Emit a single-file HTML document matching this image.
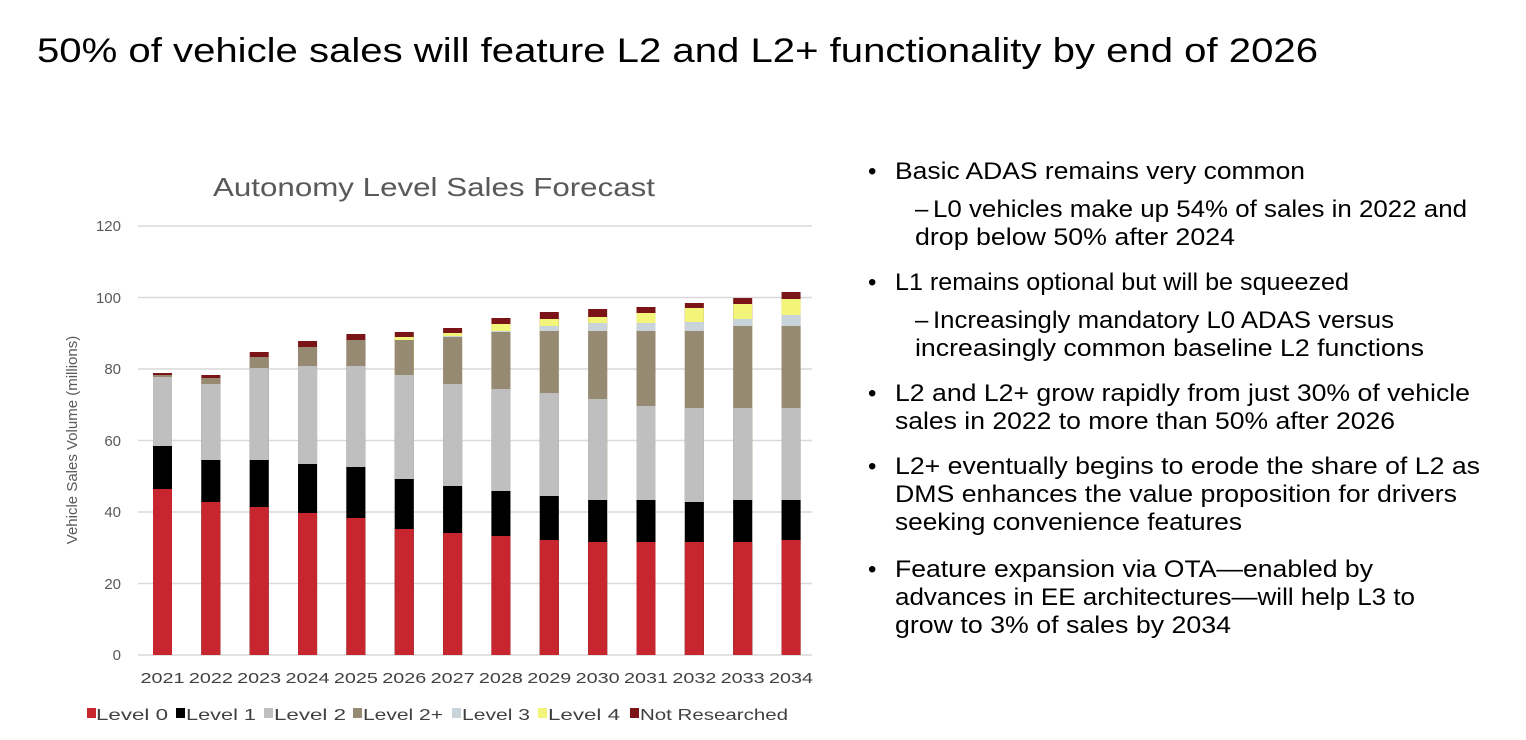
<!DOCTYPE html>
<html><head><meta charset="utf-8"><style>
html,body{margin:0;padding:0;background:#fff;}
svg{display:block;}
text{font-family:"Liberation Sans",Arial,sans-serif;}
</style></head><body>
<svg width="1526" height="740" viewBox="0 0 1526 740" xmlns="http://www.w3.org/2000/svg">
<text x="37" y="62" font-size="34" fill="#000" textLength="1281" lengthAdjust="spacingAndGlyphs">50% of vehicle sales will feature L2 and L2+ functionality by end of 2026</text>
<text x="213" y="196" font-size="26" fill="#595959" textLength="442" lengthAdjust="spacingAndGlyphs">Autonomy Level Sales Forecast</text>
<g stroke="#d9d9d9" stroke-width="1.5">
<line x1="138" y1="655" x2="812" y2="655"/><line x1="138" y1="583.5" x2="812" y2="583.5"/><line x1="138" y1="512" x2="812" y2="512"/><line x1="138" y1="440.5" x2="812" y2="440.5"/><line x1="138" y1="369" x2="812" y2="369"/><line x1="138" y1="297.5" x2="812" y2="297.5"/><line x1="138" y1="226" x2="812" y2="226"/>
</g>
<g font-size="15" fill="#595959" text-anchor="end">
<text x="121" y="660">0</text><text x="121" y="589">20</text><text x="121" y="517">40</text><text x="121" y="446">60</text><text x="121" y="374">80</text><text x="121" y="303">100</text><text x="121" y="231">120</text>
</g>
<text transform="translate(77,440) rotate(-90)" font-size="15" fill="#595959" text-anchor="middle">Vehicle Sales Volume (millions)</text>
<g id="bars"></g>
<g font-size="15" fill="#404040" text-anchor="middle" id="xl"></g>
<g font-size="16" fill="#404040">
<rect x="87" y="708" width="9" height="10" fill="#c8262f"/><text x="96" y="720" textLength="72" lengthAdjust="spacingAndGlyphs">Level 0</text>
<rect x="176" y="708" width="9" height="10" fill="#000"/><text x="186" y="720" textLength="70" lengthAdjust="spacingAndGlyphs">Level 1</text>
<rect x="264" y="708" width="9" height="10" fill="#bfbfbf"/><text x="274" y="720" textLength="72" lengthAdjust="spacingAndGlyphs">Level 2</text>
<rect x="353" y="708" width="9" height="10" fill="#978a73"/><text x="363" y="720" textLength="80" lengthAdjust="spacingAndGlyphs">Level 2+</text>
<rect x="452" y="708" width="9" height="10" fill="#c9d4da"/><text x="462" y="720" textLength="68" lengthAdjust="spacingAndGlyphs">Level 3</text>
<rect x="538" y="708" width="9" height="10" fill="#f2f57a"/><text x="548" y="720" textLength="72" lengthAdjust="spacingAndGlyphs">Level 4</text>
<rect x="630" y="708" width="9" height="10" fill="#7a1416"/><text x="640" y="720" textLength="148" lengthAdjust="spacingAndGlyphs">Not Researched</text>
</g>
<g font-size="24" fill="#000">
<text x="868" y="179">•</text><text x="895" y="179" textLength="410" lengthAdjust="spacingAndGlyphs">Basic ADAS remains very common</text>
<text x="915" y="217">–</text><text x="933" y="217" textLength="534" lengthAdjust="spacingAndGlyphs">L0 vehicles make up 54% of sales in 2022 and</text>
<text x="915" y="245" textLength="320" lengthAdjust="spacingAndGlyphs">drop below 50% after 2024</text>
<text x="868" y="290">•</text><text x="895" y="290" textLength="454" lengthAdjust="spacingAndGlyphs">L1 remains optional but will be squeezed</text>
<text x="915" y="328">–</text><text x="933" y="328" textLength="461" lengthAdjust="spacingAndGlyphs">Increasingly mandatory L0 ADAS versus</text>
<text x="915" y="356" textLength="509" lengthAdjust="spacingAndGlyphs">increasingly common baseline L2 functions</text>
<text x="868" y="401">•</text><text x="895" y="401" textLength="575" lengthAdjust="spacingAndGlyphs">L2 and L2+ grow rapidly from just 30% of vehicle</text>
<text x="895" y="429" textLength="500" lengthAdjust="spacingAndGlyphs">sales in 2022 to more than 50% after 2026</text>
<text x="868" y="474">•</text><text x="895" y="474" textLength="585" lengthAdjust="spacingAndGlyphs">L2+ eventually begins to erode the share of L2 as</text>
<text x="895" y="502" textLength="562" lengthAdjust="spacingAndGlyphs">DMS enhances the value proposition for drivers</text>
<text x="895" y="530" textLength="347" lengthAdjust="spacingAndGlyphs">seeking convenience features</text>
<text x="868" y="577">•</text><text x="895" y="577" textLength="478" lengthAdjust="spacingAndGlyphs">Feature expansion via OTA—enabled by</text>
<text x="895" y="605" textLength="520" lengthAdjust="spacingAndGlyphs">advances in EE architectures—will help L3 to</text>
<text x="895" y="633" textLength="336" lengthAdjust="spacingAndGlyphs">grow to 3% of sales by 2034</text>
</g>
<script>
var d=[[489,446,377,375,0,0,373],[502,460,384,378,0,0,375],[507,460,368,357,0,0,352],[513,464,366,347,0,0,341],[518,467,366,340,0,0,334],[529,479,375,340,0,337,332],[533,486,384,337,336,333,328],[536,491,389,332,331,324,318],[540,496,393,331,326,319,312],[542,500,399,331,323,317,309],[542,500,406,331,323,313,307],[542,502,408,331,322,308,303],[542,500,408,326,319,304,298],[540,500,408,326,315,299,292]];
var c=["#c8262f","#000","#bfbfbf","#978a73","#c9d4da","#f2f57a","#7a1416"];
var ns="http://www.w3.org/2000/svg",g=document.getElementById("bars"),xl=document.getElementById("xl");
d.forEach(function(b,i){var x=153+i*48.35;for(var k=6;k>=0;k--){if(!b[k])continue;var r=document.createElementNS(ns,"rect");r.setAttribute("x",x);r.setAttribute("y",b[k]);r.setAttribute("width",19);r.setAttribute("height",655-b[k]);r.setAttribute("fill",c[k]);g.appendChild(r);}
var t=document.createElementNS(ns,"text");t.setAttribute("x",x+9.5);t.setAttribute("y",683);t.setAttribute("textLength",44);t.setAttribute("lengthAdjust","spacingAndGlyphs");t.textContent=2021+i;xl.appendChild(t);});
</script>
</svg>
</body></html>
